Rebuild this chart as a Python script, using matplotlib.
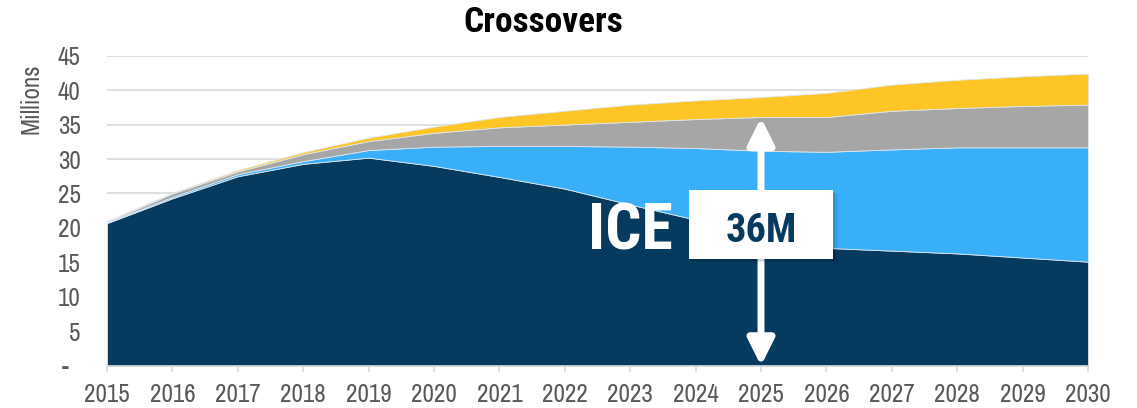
import matplotlib
matplotlib.use('Agg')
import matplotlib.pyplot as plt
from matplotlib.patches import Rectangle
import numpy as np

# stacked sales, millions of units
years = np.arange(2015, 2031)
ice = [20.7, 24.3, 27.5, 29.3, 30.2, 29.0, 27.4, 25.7, 23.4, 21.2, 19.0, 17.1, 16.7, 16.3, 15.7, 15.1]
bev = [0.1, 0.2, 0.3, 0.4, 1.1, 2.8, 4.5, 6.2, 8.4, 10.4, 12.2, 13.95, 14.7, 15.4, 16.0, 16.6]
hybrid = [0.1, 0.5, 0.4, 1.0, 1.3, 2.0, 2.7, 3.1, 3.6, 4.2, 4.9, 5.05, 5.6, 5.7, 6.0, 6.2]
other = [0.1, 0.1, 0.2, 0.3, 0.5, 0.9, 1.5, 2.0, 2.5, 2.7, 2.9, 3.5, 3.8, 4.1, 4.3, 4.5]
colors = ['#063B5F', '#3AAFF9', '#A6A6A6', '#FEC527']

ytick_vals = [0, 5, 10, 15, 20, 25, 30, 35, 40, 45]
ytick_labels = ['-  ', '5', '10', '15', '20', '25', '30', '35', '40', '45']
ice_year = 2025
ice_total = 36

plt.rcParams['font.family'] = ['Archivo Narrow', 'DejaVu Sans']
bold_font = ['Roboto Condensed', 'DejaVu Sans']

fig = plt.figure(figsize=(11.37, 4.08), dpi=100)
ax = fig.add_axes([107/1137, 42.3/408, 981/1137, 310/408])

ax.stackplot(years, ice, bev, hybrid, other, colors=colors,
             edgecolor='#DDE6EE', linewidth=0.6, zorder=2)

ax.set_xlim(2015, 2030)
ax.set_ylim(0, 45)
ax.set_xticks(years)
ax.set_xticklabels([str(y) for y in years])
ax.set_yticks(ytick_vals)
ax.set_yticklabels(ytick_labels)
ax.grid(axis='y', color='#D9D9D9', linewidth=1.2, zorder=0)
ax.set_axisbelow(True)
for s in ['top', 'right', 'left']:
    ax.spines[s].set_visible(False)
ax.spines['bottom'].set_color('#D9D9D9')
ax.spines['bottom'].set_linewidth(1.2)
ax.tick_params(axis='x', colors='#D9D9D9', length=4.5, width=1.2, pad=8,
               labelcolor='#595959', labelsize=18)
ax.tick_params(axis='y', length=0, pad=19, labelcolor='#595959', labelsize=18)
ax.set_ylabel('Millions', color='#595959', fontsize=18)
ax.yaxis.set_label_coords(-0.066, 0.86)

fig.text(543/1137, 1 - 31.7/408, 'Crossovers', ha='center', va='baseline',
         fontsize=25.5, fontweight='bold', color='black', family=bold_font)

# double-headed arrow spanning the ICE total
ax.annotate('', xy=(ice_year, ice_total), xytext=(ice_year, 0),
            arrowprops=dict(arrowstyle='<|-|>,head_length=1.6,head_width=0.8',
                            color='white', lw=5, shrinkA=0, shrinkB=0),
            zorder=5)

ax.text(2023.01, 16.86, 'ICE', color='white', fontsize=46, fontweight='bold',
        ha='center', va='baseline', family=bold_font, zorder=6)

# label box with a soft shadow
bx, by, bw, bh = 2023.90, 15.46, 2.20, 10.03
for k, a in enumerate([0.09, 0.06, 0.03]):
    off = 0.03 * (k + 1)
    ax.add_patch(Rectangle((bx + off, by - off * 7), bw, bh, fc='black',
                           ec='none', alpha=a, zorder=6))
ax.add_patch(Rectangle((bx, by), bw, bh, fc='white', ec='none', zorder=7))
ax.text(bx + bw / 2, 18.0, '%dM' % ice_total, color='#063B5F',
        fontsize=29, fontweight='bold', ha='center', va='baseline',
        family=bold_font, zorder=8)

fig.savefig('out.png', dpi=100)
